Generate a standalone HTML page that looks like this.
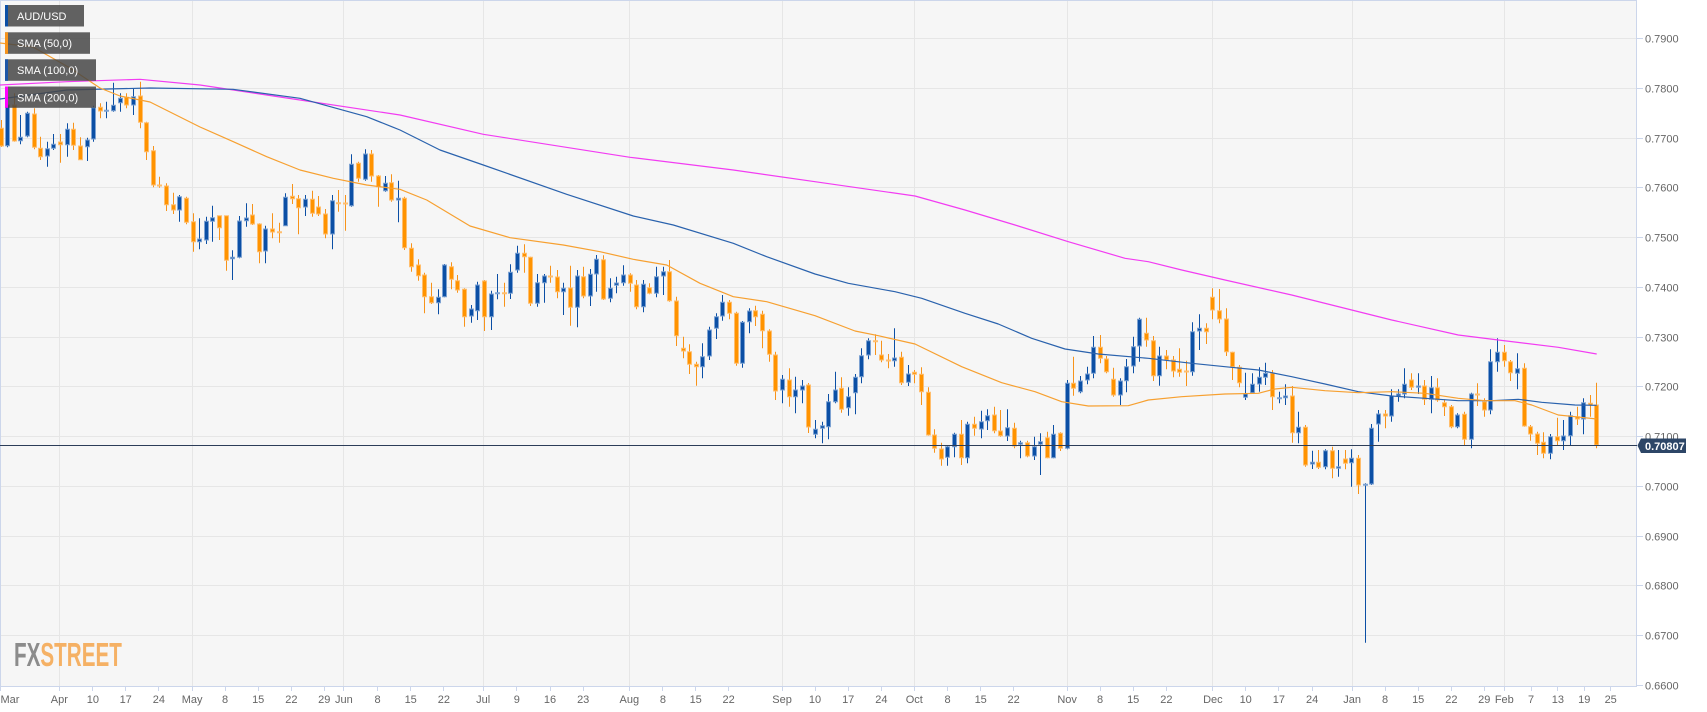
<!DOCTYPE html>
<html><head><meta charset="utf-8"><style>
html,body{margin:0;padding:0;background:#fff;}
svg{display:block;font-family:"Liberation Sans",Arial,sans-serif;}
</style></head><body>
<svg width="1707" height="712" viewBox="0 0 1707 712" xmlns="http://www.w3.org/2000/svg">
<defs><clipPath id="pc"><rect x="0" y="0" width="1637" height="686"/></clipPath></defs>
<rect x="0" y="0" width="1637" height="686" fill="#f6f6f6"/>
<g stroke="#e6e6e6" stroke-width="1" fill="none">
<path d="M0 38.5H1636M0 88.5H1636M0 138.5H1636M0 187.5H1636M0 237.5H1636M0 287.5H1636M0 337.5H1636M0 386.5H1636M0 436.5H1636M0 486.5H1636M0 536.5H1636M0 585.5H1636M0 635.5H1636"/>
<path d="M59.5 0V686M192.5 0V686M343.5 0V686M483.5 0V686M629.5 0V686M782.5 0V686M914.5 0V686M1067.5 0V686M1212.5 0V686M1352.5 0V686M1504.5 0V686"/>
</g>
<g stroke="#ccd6eb" stroke-width="1" fill="none">
<path d="M0.5 0V686M0 0.5H1637M1636.5 0V686M0 686.5H1637"/>
<path d="M1637 38.5H1643M1637 88.5H1643M1637 138.5H1643M1637 187.5H1643M1637 237.5H1643M1637 287.5H1643M1637 337.5H1643M1637 386.5H1643M1637 436.5H1643M1637 486.5H1643M1637 536.5H1643M1637 585.5H1643M1637 635.5H1643M1637 685.5H1643"/>
<path d="M0.5 687V691M59.5 687V691M92.5 687V691M125.5 687V691M158.5 687V691M192.5 687V691M225.5 687V691M258.5 687V691M291.5 687V691M324.5 687V691M343.5 687V691M377.5 687V691M410.5 687V691M443.5 687V691M483.5 687V691M516.5 687V691M550.5 687V691M583.5 687V691M629.5 687V691M662.5 687V691M695.5 687V691M728.5 687V691M782.5 687V691M815.5 687V691M848.5 687V691M881.5 687V691M914.5 687V691M947.5 687V691M980.5 687V691M1013.5 687V691M1067.5 687V691M1100.5 687V691M1133.5 687V691M1166.5 687V691M1212.5 687V691M1245.5 687V691M1278.5 687V691M1312.5 687V691M1352.5 687V691M1385.5 687V691M1418.5 687V691M1451.5 687V691M1484.5 687V691M1504.5 687V691M1531.5 687V691M1557.5 687V691M1584.5 687V691M1610.5 687V691"/>
</g>

<g font-size="11" fill="#666">
<text x="1645" y="42.5">0.7900</text><text x="1645" y="92.5">0.7800</text><text x="1645" y="142.5">0.7700</text><text x="1645" y="191.5">0.7600</text><text x="1645" y="241.5">0.7500</text><text x="1645" y="291.5">0.7400</text><text x="1645" y="341.5">0.7300</text><text x="1645" y="390.5">0.7200</text><text x="1645" y="440.5">0.7100</text><text x="1645" y="490.5">0.7000</text><text x="1645" y="540.5">0.6900</text><text x="1645" y="589.5">0.6800</text><text x="1645" y="639.5">0.6700</text><text x="1645" y="689.5">0.6600</text>
</g>
<g font-size="11" fill="#666" text-anchor="middle">
<text x="10" y="703">Mar</text><text x="59.3" y="703">Apr</text><text x="92.9" y="703">10</text><text x="125.7" y="703">17</text><text x="158.9" y="703">24</text><text x="192.1" y="703">May</text><text x="225" y="703">8</text><text x="258.2" y="703">15</text><text x="291.4" y="703">22</text><text x="324.3" y="703">29</text><text x="343.9" y="703">Jun</text><text x="377.5" y="703">8</text><text x="410.7" y="703">15</text><text x="443.9" y="703">22</text><text x="483.2" y="703">Jul</text><text x="516.8" y="703">9</text><text x="550" y="703">16</text><text x="583.2" y="703">23</text><text x="629.3" y="703">Aug</text><text x="662.9" y="703">8</text><text x="695.7" y="703">15</text><text x="728.6" y="703">22</text><text x="782.1" y="703">Sep</text><text x="815" y="703">10</text><text x="848.2" y="703">17</text><text x="881.4" y="703">24</text><text x="914.3" y="703">Oct</text><text x="947.5" y="703">8</text><text x="980.7" y="703">15</text><text x="1013.6" y="703">22</text><text x="1067.1" y="703">Nov</text><text x="1100" y="703">8</text><text x="1133.2" y="703">15</text><text x="1166.4" y="703">22</text><text x="1212.9" y="703">Dec</text><text x="1245.7" y="703">10</text><text x="1278.9" y="703">17</text><text x="1312.1" y="703">24</text><text x="1352.1" y="703">Jan</text><text x="1385" y="703">8</text><text x="1418.2" y="703">15</text><text x="1451.4" y="703">22</text><text x="1484.3" y="703">29</text><text x="1504.3" y="703">Feb</text><text x="1531.1" y="703">7</text><text x="1557.9" y="703">13</text><text x="1584.3" y="703">19</text><text x="1610.7" y="703">25</text>
</g>

<g transform="translate(14,666) scale(0.626,1)" font-size="33" font-weight="bold"><text x="0" y="0"><tspan fill="#8c8c8c">FX</tspan><tspan fill="#f5b165">STREET</tspan></text></g>

<g clip-path="url(#pc)">
<path fill="none" stroke="#f7931a" stroke-width="1" d="M1.5 120V147M14.5 93.3V141.7M34.5 108.3V149.3M40.5 136.7V160M60.5 134V162.7M73.5 122.7V150M80.5 137.3V160M100.5 103.3V118.3M126.5 93.3V108.3M140.5 81.7V128.3M146.5 121.7V160M153.5 146V187.3M159.5 176.7V187.7M166.5 183.3V211M173.5 192.7V214M186.5 196.7V224.3M193.5 213.3V251.7M219.5 215.7V240M226.5 215.7V270.7M252.5 204V225M259.5 223.3V263.3M272.5 213.3V238.3M279.5 222.7V242.7M292.5 184V204M298.5 195V234.3M312.5 190.7V216.7M318.5 196V216M325.5 209V238.3M338.5 190V211.7M345.5 195V230.7M358.5 161.7V181.7M371.5 150V181.7M378.5 175V206.7M391.5 174.3V201.7M404.5 196.7V250M411.5 243.3V271.7M418.5 259.3V280.7M424.5 272.7V313.3M431.5 282.7V304M451.5 262.3V289.3M457.5 275V292.7M464.5 288.3V326.7M484.5 280V331M504.5 282.7V306.7M524.5 244.3V272.7M530.5 256.7V306M550.5 265.7V282.7M557.5 270V298.3M570.5 265.7V325.7M583.5 266.7V298.3M603.5 255.3V300M630.5 273.3V291.7M636.5 280V309.3M649.5 283.3V294.3M669.5 260V301.7M676.5 296.7V346M683.5 336.7V358.3M689.5 344.3V374M696.5 361.7V385.7M729.5 300V319.3M736.5 311.7V365.7M755.5 305.7V326M762.5 310.7V348.3M769.5 329.3V361.7M775.5 351.7V400M789.5 368.3V406.7M808.5 383V433M841.5 377.3V412.7M875.5 334.3V355M881.5 340.7V362.3M888.5 354V368.3M901.5 351.7V385M914.5 370V383.3M921.5 367.3V405M928.5 387.3V435.7M934.5 429.3V452.7M941.5 442.7V465.7M961.5 420V465M974.5 416.7V435.7M994.5 406.7V433.3M1000.5 410V436.7M1014.5 422.7V448.3M1027.5 440.7V457.3M1047.5 431.7V458.3M1060.5 432.3V451M1073.5 356.7V395.7M1100.5 335V363.3M1106.5 356V373.3M1113.5 367.7V396.7M1146.5 317.7V346.7M1153.5 336V381M1166.5 350V369.3M1173.5 356V377.3M1179.5 348.3V376.7M1186.5 360.7V386M1206.5 323.3V344M1212.5 288.3V319.3M1219.5 289V323.3M1226.5 308.3V356M1232.5 351.7V380M1239.5 365V387.3M1272.5 370V410M1292.5 386V442.7M1305.5 425V466.7M1318.5 450V469M1332.5 446.7V478.3M1345.5 450V469.3M1358.5 455V494M1385.5 410V428.3M1411.5 373.3V390M1424.5 380V405M1437.5 378.3V401.7M1444.5 399.3V416M1451.5 405V428.3M1464.5 411.7V445M1477.5 383.3V406M1484.5 398.3V416.7M1504.5 345V366.7M1510.5 360V381M1524.5 363.3V426.7M1530.5 425V440.7M1537.5 431.7V455M1543.5 432.3V458.3M1557.5 417.7V445M1577.5 406.7V425M1590.5 395V416.7M1596.5 382.7V448.3"/>
<path fill="none" stroke="#0b4fa5" stroke-width="1" d="M7.5 100V147.3M20.5 115V144.3M27.5 111.7V137.3M47.5 141.7V166.7M53.5 134V150M67.5 123.3V156.7M87.5 137.7V161M93.5 105.7V141.7M106.5 101.7V118.3M113.5 82.7V111.7M120.5 93.3V111.7M133.5 88.3V115M179.5 195V221.7M199.5 218.3V249.3M206.5 216.7V244M212.5 205.7V241.7M232.5 250.3V280M239.5 216V258.3M246.5 203.3V226.7M265.5 225.7V263.3M285.5 193.3V225.7M305.5 195V216M332.5 195V249.3M351.5 154.3V206.7M365.5 149.3V180.7M385.5 176V191.7M398.5 180.7V222.3M438.5 289.3V314.3M444.5 264V297.3M471.5 305V322.7M477.5 281.7V320M491.5 290.7V330M497.5 274V299.3M510.5 264.3V299M517.5 245.7V272.7M537.5 274V306.7M544.5 274V302.7M563.5 282.7V315M577.5 270V327.3M590.5 269V306M596.5 255V291.7M610.5 278.3V302.3M616.5 276.7V293.3M623.5 265.3V285.7M643.5 280V312.3M656.5 266.7V297.3M663.5 266.7V295M702.5 343.3V378.3M709.5 326.7V360M716.5 313.3V339M722.5 295V320.7M742.5 321V367.7M749.5 308.3V333.3M782.5 375V403.3M795.5 376.7V413.3M802.5 380V403.3M815.5 420V438.3M822.5 421.7V443.3M828.5 394V439.3M835.5 371.7V403.3M848.5 387.3V415.7M855.5 374V414.3M861.5 348.3V383.3M868.5 338.3V359.3M894.5 328.3V366.7M908.5 365V386M947.5 445V465.7M954.5 432.7V457.3M967.5 421.7V463.3M981.5 410.7V438.3M987.5 409.3V430M1007.5 409.3V441M1020.5 440.7V458.3M1034.5 436.7V460M1040.5 433.3V475M1053.5 425V458.3M1067.5 380V449.3M1080.5 376V393.3M1087.5 366.7V384.3M1093.5 336V378.3M1120.5 378.3V405M1126.5 359V392.3M1133.5 336.7V373.3M1139.5 317.7V361.7M1159.5 346.7V385.7M1192.5 322.3V375.7M1199.5 314.3V350M1245.5 372.7V400M1252.5 373.3V394M1259.5 367.3V391.7M1265.5 362.7V385M1279.5 391.7V403.3M1285.5 384.3V405M1298.5 411.7V443.3M1312.5 450.7V469M1325.5 449.3V469.3M1338.5 450V476.7M1351.5 449.3V486.7M1365.5 483.3V642.7M1371.5 424V485M1378.5 410V441.7M1391.5 389.3V421.7M1398.5 389.3V401.7M1404.5 368.3V398.3M1418.5 373.3V394M1431.5 376V413.3M1457.5 413.3V428.3M1471.5 392.7V448.3M1490.5 349.3V414.3M1497.5 338.3V371.7M1517.5 353.3V389.3M1550.5 434V459.3M1563.5 420V450M1570.5 411.7V446M1583.5 398.3V434.3"/>
<path fill="#ff9300" stroke="#ffbe6e" stroke-width="1" d="M-0.5 128.3h4V146h-4ZM12.5 105h4V141h-4ZM32.5 114h4V147.3h-4ZM38.5 148.3h4V156.7h-4ZM58.5 142h4V144.7h-4ZM71.5 129.3h4V145.3h-4ZM78.5 146h4V159.7h-4ZM98.5 107.3h4V111h-4ZM124.5 97.3h4V105h-4ZM138.5 96h4V122.3h-4ZM144.5 122.7h4V151.7h-4ZM151.5 150.7h4V185h-4ZM157.5 185h4V186h-4ZM164.5 186h4V204.7h-4ZM171.5 204.7h4V210h-4ZM184.5 198.3h4V222.3h-4ZM191.5 221.7h4V241.7h-4ZM217.5 215.7h4V227.7h-4ZM224.5 215.7h4V260.3h-4ZM250.5 215h4V224h-4ZM257.5 224h4V251.7h-4ZM270.5 229h4V232h-4ZM277.5 231.7h4V232.7h-4ZM290.5 196.3h4V198.7h-4ZM296.5 198.7h4V207.7h-4ZM310.5 199.3h4V213.3h-4ZM316.5 207h4V214h-4ZM323.5 214h4V234h-4ZM336.5 202.7h4V203.7h-4ZM343.5 203h4V204h-4ZM356.5 163.3h4V178.3h-4ZM369.5 154h4V176h-4ZM376.5 176h4V186.7h-4ZM389.5 182.7h4V200h-4ZM402.5 198.3h4V247.7h-4ZM409.5 248.3h4V266.7h-4ZM416.5 265h4V275.7h-4ZM422.5 275h4V296.7h-4ZM429.5 296.7h4V302.7h-4ZM449.5 266.7h4V279.3h-4ZM455.5 280.7h4V290h-4ZM462.5 289.3h4V316.7h-4ZM482.5 281h4V316.7h-4ZM502.5 292.7h4V293.7h-4ZM522.5 253.3h4V256.7h-4ZM528.5 257.3h4V303.3h-4ZM548.5 276h4V277h-4ZM555.5 277h4V291.7h-4ZM568.5 288h4V307.3h-4ZM581.5 276.7h4V296h-4ZM601.5 259.7h4V299h-4ZM628.5 275h4V283.3h-4ZM634.5 285h4V306.7h-4ZM647.5 287.7h4V293.3h-4ZM667.5 271.7h4V300.7h-4ZM674.5 301h4V335.7h-4ZM681.5 348.3h4V351h-4ZM687.5 351.7h4V364.3h-4ZM694.5 364.3h4V366.7h-4ZM727.5 302.3h4V313.3h-4ZM734.5 313.3h4V363.3h-4ZM753.5 310.7h4V316.7h-4ZM760.5 314.3h4V330.7h-4ZM767.5 331h4V354.3h-4ZM773.5 355h4V391h-4ZM787.5 380h4V396.7h-4ZM806.5 385h4V427h-4ZM839.5 388.3h4V409.3h-4ZM873.5 340.7h4V341.7h-4ZM879.5 355h4V360h-4ZM886.5 360h4V361h-4ZM899.5 357.3h4V382.7h-4ZM912.5 372.3h4V374.3h-4ZM919.5 374.3h4V391.7h-4ZM926.5 392.3h4V435h-4ZM932.5 435h4V448.3h-4ZM939.5 449h4V459h-4ZM959.5 434.3h4V457.7h-4ZM972.5 424.3h4V428.3h-4ZM992.5 415h4V430.7h-4ZM998.5 431h4V435.7h-4ZM1012.5 428.3h4V446h-4ZM1025.5 442.7h4V456h-4ZM1045.5 437.7h4V457.7h-4ZM1058.5 433.3h4V448.3h-4ZM1071.5 383.3h4V388.3h-4ZM1098.5 347.3h4V358.3h-4ZM1104.5 359h4V371.7h-4ZM1111.5 379.3h4V395h-4ZM1144.5 333.3h4V340h-4ZM1151.5 340.7h4V375.7h-4ZM1164.5 356h4V360h-4ZM1171.5 360h4V371h-4ZM1177.5 369.3h4V372.3h-4ZM1184.5 371h4V372h-4ZM1204.5 328.3h4V331.7h-4ZM1210.5 297.3h4V310h-4ZM1217.5 310.7h4V319h-4ZM1224.5 319h4V351.7h-4ZM1230.5 352.3h4V366.7h-4ZM1237.5 367.3h4V382.7h-4ZM1270.5 373.3h4V396.7h-4ZM1290.5 396h4V432.7h-4ZM1303.5 427.3h4V465h-4ZM1316.5 462.3h4V467.3h-4ZM1330.5 450.7h4V468.3h-4ZM1343.5 459h4V463.3h-4ZM1356.5 458.3h4V485h-4ZM1383.5 414h4V416h-4ZM1409.5 380h4V387.3h-4ZM1422.5 386h4V399.3h-4ZM1435.5 387.7h4V400h-4ZM1442.5 402.7h4V406.7h-4ZM1449.5 406.7h4V426.7h-4ZM1462.5 414.3h4V439.3h-4ZM1475.5 394h4V395h-4ZM1482.5 401.7h4V410h-4ZM1502.5 352.3h4V360.7h-4ZM1508.5 361.7h4V372.7h-4ZM1522.5 368.3h4V426h-4ZM1528.5 426.7h4V434h-4ZM1535.5 434h4V443.3h-4ZM1541.5 442.3h4V453.3h-4ZM1555.5 436.7h4V440.7h-4ZM1575.5 416.7h4V419h-4ZM1588.5 403.3h4V405h-4ZM1594.5 405h4V445h-4Z"/>
<path fill="#0b4fa5" stroke="#7da2d2" stroke-width="1" d="M5.5 105h4V145.7h-4ZM18.5 137.3h4V140.7h-4ZM25.5 113.3h4V136h-4ZM45.5 148.7h4V156h-4ZM51.5 144.3h4V148.3h-4ZM65.5 129.3h4V144.7h-4ZM85.5 140h4V146.7h-4ZM91.5 107.7h4V139h-4ZM104.5 110.3h4V111.3h-4ZM111.5 105.3h4V110.7h-4ZM118.5 98.3h4V102.7h-4ZM131.5 96.7h4V105h-4ZM177.5 196.7h4V210h-4ZM197.5 239h4V241.7h-4ZM204.5 221.3h4V240h-4ZM210.5 217.7h4V221.3h-4ZM230.5 257.3h4V258.7h-4ZM237.5 221h4V257.3h-4ZM244.5 218h4V220.7h-4ZM263.5 229h4V251h-4ZM283.5 197.3h4V225.7h-4ZM303.5 199.3h4V207h-4ZM330.5 200.7h4V234h-4ZM349.5 164.3h4V205.7h-4ZM363.5 154h4V179.3h-4ZM383.5 183.3h4V190.7h-4ZM396.5 198.3h4V200h-4ZM436.5 297.3h4V302.7h-4ZM442.5 265h4V296.7h-4ZM469.5 309h4V316h-4ZM475.5 285h4V310.7h-4ZM489.5 294h4V316.7h-4ZM495.5 292.7h4V293.7h-4ZM508.5 272.3h4V293.3h-4ZM515.5 253.3h4V270h-4ZM535.5 282.7h4V303.3h-4ZM542.5 276h4V282.7h-4ZM561.5 288.3h4V291.7h-4ZM575.5 276h4V307.3h-4ZM588.5 274.3h4V296h-4ZM594.5 259.3h4V274h-4ZM608.5 288.3h4V298.3h-4ZM614.5 283h4V285.3h-4ZM621.5 275h4V282.7h-4ZM641.5 284.3h4V306.7h-4ZM654.5 276.7h4V293.3h-4ZM661.5 271.7h4V276h-4ZM700.5 356.7h4V366.7h-4ZM707.5 330h4V356h-4ZM714.5 316.7h4V328.3h-4ZM720.5 302.3h4V316h-4ZM740.5 322.3h4V363.3h-4ZM747.5 311h4V321.7h-4ZM780.5 379.3h4V390h-4ZM793.5 390h4V396.7h-4ZM800.5 386h4V390h-4ZM813.5 429.3h4V434.3h-4ZM820.5 425.7h4V428.3h-4ZM826.5 401.7h4V426.7h-4ZM833.5 390h4V401.7h-4ZM846.5 396.7h4V407.7h-4ZM853.5 377.3h4V392.7h-4ZM859.5 355.7h4V376.7h-4ZM866.5 340.7h4V355h-4ZM892.5 358h4V360.7h-4ZM906.5 374h4V382.3h-4ZM945.5 446.7h4V457.3h-4ZM952.5 434.3h4V446.7h-4ZM965.5 424.3h4V457.7h-4ZM979.5 421.7h4V429h-4ZM985.5 415.7h4V420.7h-4ZM1005.5 427.7h4V436h-4ZM1018.5 442.7h4V444.3h-4ZM1032.5 446.7h4V456h-4ZM1038.5 441.7h4V444.3h-4ZM1051.5 434.3h4V457.7h-4ZM1065.5 383.3h4V448.3h-4ZM1078.5 381h4V391.7h-4ZM1085.5 374h4V380h-4ZM1091.5 347.3h4V373.3h-4ZM1118.5 381h4V395h-4ZM1124.5 366.7h4V380.7h-4ZM1131.5 346.7h4V366h-4ZM1137.5 319.3h4V346h-4ZM1157.5 356h4V375.7h-4ZM1190.5 331.7h4V371.7h-4ZM1197.5 328.3h4V331h-4ZM1243.5 394h4V397.3h-4ZM1250.5 384.3h4V392.7h-4ZM1257.5 377.3h4V384h-4ZM1263.5 373.3h4V377.3h-4ZM1277.5 397.7h4V398.7h-4ZM1283.5 396h4V397.7h-4ZM1296.5 427.3h4V432.7h-4ZM1310.5 462.3h4V464h-4ZM1323.5 450.7h4V466.7h-4ZM1336.5 466.7h4V468.3h-4ZM1349.5 458.3h4V462.7h-4ZM1363.5 484.3h4V485.3h-4ZM1369.5 428.3h4V484h-4ZM1376.5 414h4V424h-4ZM1389.5 396h4V416h-4ZM1396.5 394h4V396h-4ZM1402.5 384.3h4V394h-4ZM1416.5 386h4V387.3h-4ZM1429.5 387.7h4V399.3h-4ZM1455.5 415h4V426.7h-4ZM1469.5 394h4V439.3h-4ZM1488.5 361.7h4V410h-4ZM1495.5 352.3h4V361.7h-4ZM1515.5 368.7h4V373.3h-4ZM1548.5 436.7h4V453.3h-4ZM1561.5 436h4V440.7h-4ZM1568.5 415.7h4V435.7h-4ZM1581.5 402.7h4V419h-4Z"/>

<polyline fill="none" stroke="#f23cf2" stroke-width="1.2" stroke-linejoin="round" points="0,85 66.7,81.7 140,79.3 200,85 300,100 400,115 483.3,134.3 630,157.3 733.3,170 815,181.7 915,196 965,210 1015,225 1068.3,241.7 1125,258.3 1148.3,261.7 1181.7,270 1225,280 1291.7,295 1351.7,310 1391.7,320 1458.3,335 1498.3,340 1558.3,347.3 1596.7,354"/>
<polyline fill="none" stroke="#2a62ad" stroke-width="1.2" stroke-linejoin="round" points="0,99 66.7,90 150,88 233,89.3 300,98.3 366.7,116.7 400,130 440,150 483.3,165 566.7,194.3 633.3,216 673.3,225 733.3,243.3 766.7,256.7 815,274 848.3,283.3 895,291.7 921.7,298.3 965,313.3 998.3,324 1031.7,338.3 1065,349 1098.3,354 1148.3,358.3 1191.7,363.3 1225,366.7 1258.3,370 1291.7,376.7 1325,384 1358.3,391.7 1391.7,396 1425,398.3 1458.3,400.7 1491.7,400.7 1518.3,399.3 1541.7,402.3 1575,405 1596.7,405.3"/>
<polyline fill="none" stroke="#f7a030" stroke-width="1.2" stroke-linejoin="round" points="0,43 33,47 70,68 100,88 120,96 150,102 200,127 233.3,141.7 266.7,156.7 300,170 333.3,178.3 366.7,185 400,189.3 426.7,200 470,226 510,237.7 563.3,245 600,251.7 633.3,259.3 666.7,265 700,283.3 733.3,296.7 766.7,301.7 815,315.7 855,331 878.3,335.7 915,344 961.7,366.7 1001.7,382.7 1035,391.7 1061.7,401.7 1088.3,406 1128.3,405.7 1148.3,400 1181.7,396.7 1225,394 1258.3,393.3 1275,389 1291.7,387.3 1325,390.7 1358.3,392.7 1391.7,391.7 1425,393.3 1458.3,398.3 1485,400.7 1515,400.7 1531.7,405 1558.3,415 1575,416.7 1596.7,419"/>
</g>

<path d="M0 445.5H1637" stroke="#2c3d58" stroke-width="1" fill="none"/>
<path d="M1637.5 445.5L1641 438.5H1686V453H1641Z" fill="#2d4667"/>
<text x="1645" y="450" font-size="11" font-weight="bold" fill="#fff">0.70807</text>

<g font-size="11" fill="#fff">
<rect x="5" y="5" width="79" height="21.5" fill="rgba(70,70,70,0.85)"/><rect x="5" y="5" width="3" height="21.5" fill="#0b4fa5"/><text x="17" y="19.8">AUD/USD</text>
<rect x="5" y="32.3" width="85" height="21.5" fill="rgba(70,70,70,0.85)"/><rect x="5" y="32.3" width="3" height="21.5" fill="#f7931a"/><text x="17" y="47.2">SMA (50,0)</text>
<rect x="5" y="59.3" width="91" height="21.5" fill="rgba(70,70,70,0.85)"/><rect x="5" y="59.3" width="3" height="21.5" fill="#1c56a8"/><text x="17" y="74.2">SMA (100,0)</text>
<rect x="5" y="86.5" width="91" height="21.3" fill="rgba(70,70,70,0.85)"/><rect x="5" y="86.5" width="3" height="21.3" fill="#ff00ff"/><text x="17" y="101.3">SMA (200,0)</text>
</g>
</svg>
</body></html>
